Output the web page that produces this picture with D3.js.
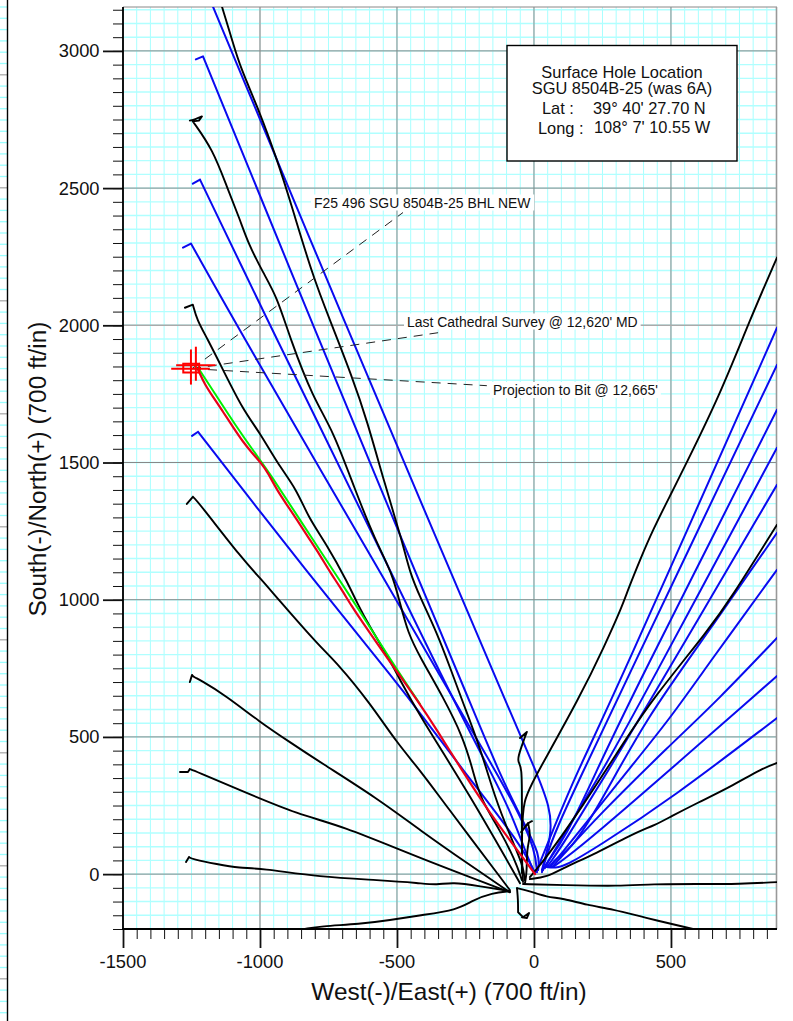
<!DOCTYPE html>
<html><head><meta charset="utf-8">
<style>html,body{margin:0;padding:0;background:#fff}svg{display:block}text{font-family:"Liberation Sans",Arial,sans-serif;fill:#111}</style>
<script src="https://cdn.jsdelivr.net/npm/d3@7"></script>
</head><body><svg id="c" width="793" height="1021"></svg>
<script>
const xTicksMajor=[-1500,-1000,-500,0,500];
const yTicksMajor=[0,500,1000,1500,2000,2500,3000];
const blackWells=[
[[-1139,3162],[-1099,3031],[-1073,2943],[-1000,2775],[-938,2604],[-891,2458],[-807,2177],[-745,2020],[-664,1813],[-610,1656],[-544,1419],[-482,1218],[-453,1098],[-416,1010],[-354,879],[-307,755],[-259,624],[-197,463],[-142,277],[-88,142],[-40,33],[-33,-22]],
[[-1256,2746],[-1237,2750],[-1212,2761],[-1223,2746],[-1245,2743],[-1172,2640],[-1121,2505],[-1073,2385],[-1044,2301],[-989,2192],[-938,2104],[-891,1955],[-807,1736],[-734,1619],[-653,1400],[-580,1218],[-518,1098],[-489,988],[-460,879],[-416,791],[-332,646],[-259,500],[-223,379],[-197,277],[-124,160],[-69,51],[-44,-22]],
[[-1274,2064],[-1245,2075],[-1230,2020],[-1194,1955],[-1135,1838],[-1062,1692],[-1000,1608],[-938,1499],[-865,1400],[-825,1302],[-756,1200],[-679,1061],[-646,988],[-599,901],[-537,799],[-489,708],[-423,587],[-234,288],[-51,-33]],
[[-1267,1349],[-1245,1375],[-1226,1357],[-1062,1145],[-1000,1080],[-938,1007],[-781,828],[-719,770],[-599,624],[-500,478],[-416,379],[-336,270],[-88,-58]],
[[-1256,700],[-1248,726],[-1241,718],[-1219,708],[-1128,653],[-1000,554],[-891,481],[-781,408],[-573,277],[-416,160],[-234,33],[-88,-66]],
[[-1292,372],[-1263,372],[-1256,383],[-1237,376],[-1073,306],[-854,215],[-708,179],[-416,58],[-88,-66]],
[[-1270,44],[-1259,62],[-1248,55],[-1157,36],[-1073,22],[-1000,22],[-781,-11],[-562,-22],[-416,-33],[-354,-40],[-299,-29],[-197,-44],[-88,-62]],
[[-836,-200],[-781,-190],[-635,-182],[-526,-168],[-416,-150],[-281,-131],[-223,-95],[-153,-69],[-88,-62]],
[[887,2247],[788,2020],[679,1747],[544,1473],[504,1393],[434,1255],[387,1145],[343,1036],[321,974],[259,835],[168,646],[4,354],[-40,270],[-44,150],[-44,4]],
[[887,1273],[715,999],[642,897],[431,635],[350,514],[168,233],[47,62],[-15,-11]],
[[887,405],[836,387],[715,317],[595,259],[496,208],[449,182],[350,142],[230,77],[106,22],[47,-11],[-15,-18]],
[[887,-29],[752,-36],[595,-36],[431,-36],[314,-44],[106,-40],[-40,-36]],
[[580,-200],[398,-157],[288,-128],[193,-113],[106,-88],[47,-84],[-15,-62],[-62,-51]],
[[-26,518],[-51,496],[-26,518],[-40,481],[-58,427],[-58,408],[-44,390],[-44,270],[-44,150],[-44,51],[-40,-29]],
[[-7,193],[-22,186],[-47,153],[-22,186],[-11,142],[-26,98],[-26,4],[-33,-33]],
[[-62,-51],[-58,-95],[-58,-139],[-40,-157],[-18,-142],[-26,-160],[-44,-157]]
];
const blueWells=[
[[-1172,3162],[-664,1947],[-354,1218],[-106,635],[11,368],[58,244],[66,150],[29,15]],
[[-1234,2969],[-1208,2980],[-785,1947],[-482,1218],[-237,635],[-124,361],[-33,179],[22,69],[15,15]],
[[-1245,2516],[-1219,2531],[-938,1947],[-891,1856],[-296,635],[-161,379],[-88,233],[-33,88],[0,7]],
[[-1281,2283],[-1252,2298],[-1055,1947],[-562,1101],[-292,635],[-142,379],[-51,215],[4,88],[11,7]],
[[-1248,1597],[-1226,1612],[-1000,1320],[-745,999],[-500,697],[-416,587],[-259,379],[-51,113],[4,4]],
[[887,1991],[285,635],[157,372],[69,160],[11,15]],
[[887,1856],[303,635],[168,350],[84,171],[40,51],[29,7]],
[[887,1692],[350,635],[230,379],[113,128],[47,44],[33,15]],
[[887,1554],[394,635],[241,361],[131,179],[58,58],[40,22]],
[[887,1419],[427,635],[241,328],[113,120],[62,45],[47,26]],
[[887,1244],[642,890],[405,562],[241,255],[131,84],[80,58],[58,29]],
[[887,1109],[642,773],[493,562],[350,387],[204,204],[102,77],[58,26]],
[[887,861],[672,635],[496,470],[230,208],[106,69],[69,29]],
[[887,722],[788,635],[504,387],[230,150],[106,51],[69,26],[47,29]],
[[887,569],[504,277],[230,98],[120,33],[77,22],[47,26]]
];
const greenWell=[[-1226,1845],[-1183,1780],[-1091,1637],[-993,1499],[-971,1470],[-854,1291],[-701,1058],[-653,985],[-500,745],[-416,620]];
const redWell=[[-1226,1838],[-1201,1783],[-1172,1740],[-1135,1685],[-1099,1630],[-1062,1575],[-1029,1535],[-993,1495],[-971,1462],[-938,1400],[-902,1346],[-865,1291],[-825,1229],[-781,1163],[-745,1101],[-708,1047],[-664,974],[-624,915],[-573,842],[-500,737],[-427,635],[-354,525],[-270,390],[-197,277],[-135,186],[4,0]];
const target=[-1248,1842];
const leaderEnds=[[-478,2411],[-350,1973],[-172,1780]];
const leaderLabels=["F25 496 SGU 8504B-25 BHL NEW","Last Cathedral Survey @ 12,620' MD","Projection to Bit @ 12,665'"];
const infoLines=["Surface Hole Location","SGU 8504B-25 (was 6A)"];
const infoRows=[["Lat :","39° 40' 27.70 N"],["Long :","108° 7' 10.55 W"]];

const svg=d3.select("#c");
const x=d3.scaleLinear().domain([-1500,887]).range([123,777]);
const y=d3.scaleLinear().domain([-200,3160]).range([929,7]);
const xMinor=d3.range(-1500,887,50), yMinor=d3.range(-200,3160,50);

// clipped neighbouring page strip on the left edge
const strip=svg.append("g");
d3.range(7,1021,11.3).forEach((p,i)=>{
  const major=(i%10)===6;
  strip.append("line").attr("x1",0).attr("x2",7).attr("y1",p).attr("y2",p)
    .attr("stroke",major?"#aaa":"#9ff").attr("stroke-width",1.3);
});
strip.append("line").attr("x1",7.5).attr("x2",7.5).attr("y1",0).attr("y2",1021).attr("stroke","#000").attr("stroke-width",1.4);

// grid
const grid=svg.append("g");
xMinor.forEach(v=>grid.append("line").attr("x1",x(v)).attr("x2",x(v)).attr("y1",7).attr("y2",929).attr("stroke","#a8ffff").attr("stroke-width",1));
yMinor.forEach(v=>grid.append("line").attr("y1",y(v)).attr("y2",y(v)).attr("x1",123).attr("x2",777).attr("stroke","#b0ffff").attr("stroke-width",1.4));
xTicksMajor.forEach(v=>grid.append("line").attr("x1",x(v)).attr("x2",x(v)).attr("y1",7).attr("y2",929).attr("stroke",v===-1000?"#aaa":"#888").attr("stroke-width",v===-1000?1.6:1));
yTicksMajor.forEach(v=>grid.append("line").attr("y1",y(v)).attr("y2",y(v)).attr("x1",123).attr("x2",777).attr("stroke",v===2000?"#aaa":"#888").attr("stroke-width",v===2000?1.6:1));
grid.append("line").attr("x1",123).attr("x2",777).attr("y1",7).attr("y2",7).attr("stroke","#888").attr("stroke-width",1);
grid.append("line").attr("x1",776.5).attr("x2",776.5).attr("y1",7).attr("y2",929).attr("stroke","#999").attr("stroke-width",1.6);

// wells: smooth between sharp corners, sharp at hooks
svg.append("clipPath").attr("id","plot").append("rect").attr("x",123).attr("y",7).attr("width",654).attr("height",922);
const line=d3.line().x(d=>x(d[0])).y(d=>y(d[1])).curve(d3.curveBasis);
function pieces(w){
  const out=[];let cur=[w[0]];
  for(let i=1;i<w.length;i++){
    cur.push(w[i]);
    if(i<w.length-1){
      const a=Math.atan2(y(w[i][1])-y(w[i-1][1]),x(w[i][0])-x(w[i-1][0]));
      const b=Math.atan2(y(w[i+1][1])-y(w[i][1]),x(w[i+1][0])-x(w[i][0]));
      let t=Math.abs(a-b);if(t>Math.PI)t=2*Math.PI-t;
      if(t>0.7){out.push(cur);cur=[w[i]];}
    }
  }
  out.push(cur);return out;
}
const wells=svg.append("g").attr("clip-path","url(#plot)").attr("fill","none").attr("stroke-linejoin","round").attr("stroke-linecap","round");
const draw=(w,c,sw)=>wells.append("path").attr("d",pieces(w).map(p=>line(p)).join("")).attr("stroke",c).attr("stroke-width",sw);
blueWells.forEach(w=>draw(w,"#0a0af0",2));
blackWells.forEach(w=>draw(w,"#000",1.9));
draw(greenWell,"#00f000",2);
draw(redWell,"#e8001a",2.2);

// leaders
leaderEnds.forEach(e=>svg.append("line").attr("x1",x(target[0])).attr("y1",y(target[1])).attr("x2",x(e[0])).attr("y2",y(e[1]))
  .attr("stroke","#222").attr("stroke-width",1).attr("stroke-dasharray","9 7"));

// target marker
const mk=svg.append("g").attr("fill","none").attr("stroke","#f00").attr("stroke-width",2);
mk.append("rect").attr("x",x(target[0]-32)).attr("y",y(target[1]+18)).attr("width",x(target[0]+26)-x(target[0]-32)).attr("height",y(target[1]-14)-y(target[1]+18));
[[-58,85,12],[-76,65,0]].forEach(a=>mk.append("line").attr("x1",x(target[0]+a[0])).attr("x2",x(target[0]+a[1])).attr("y1",y(target[1]+a[2])).attr("y2",y(target[1]+a[2])));
[[-4,70,-58],[14,80,-44]].forEach(a=>mk.append("line").attr("x1",x(target[0]+a[0])).attr("x2",x(target[0]+a[0])).attr("y1",y(target[1]+a[1])).attr("y2",y(target[1]+a[2])));

// axes
const axL=(vals,size,sw)=>g=>{g.call(d3.axisLeft(y).tickValues(vals).tickSize(size).tickFormat(""));g.selectAll(".domain").remove();g.selectAll("line").attr("stroke","#111").attr("stroke-width",sw);};
const axB=(vals,size,sw)=>g=>{g.call(d3.axisBottom(x).tickValues(vals).tickSize(size).tickFormat(""));g.selectAll(".domain").remove();g.selectAll("line").attr("stroke","#111").attr("stroke-width",sw);};
svg.append("g").attr("transform","translate(123,0)").call(axL(yMinor,10,1));
svg.append("g").attr("transform","translate(123,0)").call(axL(yTicksMajor,20,1.8));
svg.append("g").attr("transform","translate(0,929)").call(axB(xMinor,10,1));
svg.append("g").attr("transform","translate(0,929)").call(axB(xTicksMajor,19,1.8));
svg.append("line").attr("x1",123).attr("x2",123).attr("y1",7).attr("y2",929).attr("stroke","#000").attr("stroke-width",1.8);
svg.append("line").attr("x1",122).attr("x2",777).attr("y1",929).attr("y2",929).attr("stroke","#000").attr("stroke-width",1.8);

yTicksMajor.forEach(v=>svg.append("text").attr("x",99.5).attr("y",y(v)+6.5).attr("text-anchor","end").attr("font-size",18.3).text(v));
xTicksMajor.forEach(v=>svg.append("text").attr("x",x(v)).attr("y",968).attr("text-anchor","middle").attr("font-size",18.3).text(v));
svg.append("text").attr("x",449).attr("y",1000).attr("text-anchor","middle").attr("font-size",24.4).text("West(-)/East(+) (700 ft/in)");
svg.append("text").attr("transform","translate(46,469) rotate(-90)").attr("text-anchor","middle").attr("font-size",24.4).text("South(-)/North(+) (700 ft/in)");

// leader labels with white backing
[[314,207.5],[407,326.5],[493,395]].forEach((p,i)=>{
  const t=svg.append("text").attr("x",p[0]).attr("y",p[1]).attr("font-size",13.95).text(leaderLabels[i]);
  const b=t.node().getBBox();
  svg.insert("rect",()=>t.node()).attr("x",b.x-3).attr("y",b.y).attr("width",b.width+6).attr("height",b.height).attr("fill","#fff");
});

// info box
svg.append("rect").attr("x",507).attr("y",45.5).attr("width",230).attr("height",115.5).attr("fill","#fff").attr("stroke","#000").attr("stroke-width",1.4);
infoLines.forEach((s,i)=>svg.append("text").attr("x",622).attr("y",[78,94][i]).attr("text-anchor","middle").attr("font-size",16.4).text(s));
[[542,593,114],[538,594,134]].forEach((p,i)=>{
  svg.append("text").attr("x",p[0]).attr("y",p[2]).attr("font-size",16.4).text(infoRows[i][0]);
  svg.append("text").attr("x",p[1]).attr("y",p[2]-(i?1:0)).attr("font-size",16.4).text(infoRows[i][1]);
});
</script></body></html>
